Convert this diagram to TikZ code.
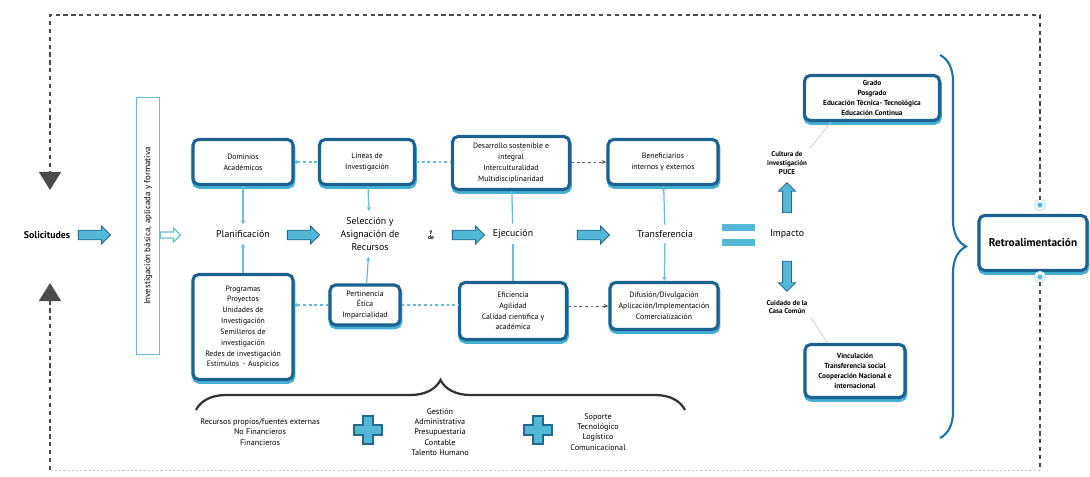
\documentclass[tikz,border=0pt]{standalone}
\usepackage{fontspec}
\setmainfont{PT Sans}
\usetikzlibrary{positioning, arrows.meta, shapes.arrows, shadows, decorations.pathreplacing, calc}
\definecolor{boxdark}{RGB}{28,98,145}
\definecolor{boxcyan}{RGB}{70,175,212}
\definecolor{linecyan}{RGB}{105,190,215}
\definecolor{arrowfill}{RGB}{82,184,214}
\definecolor{arrowdark}{RGB}{35,105,145}
\definecolor{braceblue}{RGB}{30,115,165}
\definecolor{loopgray}{RGB}{75,75,75}
\definecolor{dotcyan}{RGB}{80,185,220}

\begin{document}
\begin{tikzpicture}[
    x=0.025cm, y=-0.025cm,
    box/.style={rectangle, draw=boxdark, line width=2.2pt, rounded corners=4pt, fill=white, align=center, inner sep=1pt,
      preaction={draw=boxcyan, line width=2.6pt, transform canvas={yshift=-1.8pt, xshift=0.4pt}},
      font=\fontsize{5.5}{7.7}\selectfont},
    boldbox/.style={box, font=\fontsize{5.2}{7}\selectfont\bfseries},
    stage/.style={align=center, inner sep=4pt, font=\fontsize{7}{9.5}\selectfont},
    note/.style={align=center, font=\fontsize{5.8}{7.3}\selectfont},
    smallbold/.style={align=center, inner sep=2pt, font=\fontsize{5}{6.3}\selectfont\bfseries},
    blockarrow/.style={single arrow, draw=arrowdark, fill=arrowfill, line width=0.6pt, minimum height=0.8cm,
      inner sep=0.11cm, single arrow head extend=0.1cm, single arrow head indent=0pt},
    link/.style={draw=linecyan, line width=0.9pt},
    tip/.style={-{Stealth[length=3pt,width=3pt]}},
    dashlink/.style={draw=linecyan, line width=0.8pt, dash pattern=on 2pt off 2pt},
    grayarrow/.style={draw=gray!70!black, line width=0.6pt, dash pattern=on 2pt off 2pt, -{Stealth[length=3.5pt,width=3pt]}},
    leader/.style={draw=gray!45, line width=0.4pt},
    loop/.style={draw=loopgray, line width=0.9pt, dash pattern=on 3pt off 2.6pt},
    dot/.style={circle, fill=dotcyan, draw=linecyan!45, double=white, double distance=1pt, line width=0.8pt,
      minimum size=6pt, inner sep=0pt},
    plus/.style={fill=arrowfill, draw=arrowdark, line width=0.8pt}
  ]
  \fill[white] (0,0) rectangle (1090,477);
  \useasboundingbox (0,0) rectangle (1090,477);

  % Entry
  \node[font=\fontsize{7}{8}\selectfont\bfseries] (sol) at (47,235) {Solicitudes};
  \node[blockarrow] (ba1) at (92,235) {};
  \node[rectangle, draw=linecyan, line width=1.1pt, rotate=90, minimum width=6.425cm, minimum height=0.575cm,
    inner sep=0pt, font=\fontsize{6.3}{7}\selectfont] (inv) at (148,226) {Investigación básica, aplicada y formativa};
  \node[single arrow, draw=linecyan, fill=white, line width=0.8pt, minimum height=0.5cm, inner sep=0.06cm,
    single arrow head extend=0.1cm] (oa) at (169,235) {};

  % Stages
  \node[stage] (plan) at (243,234) {Planificación};
  \node[stage] (sel) at (370,234) {Selección y\\Asignación de\\Recursos};
  \node[align=center, inner sep=0pt, font=\fontsize{4}{4.5}\selectfont\bfseries] (yde) at (431,235) {y\\de};
  \node[stage] (eje) at (513,234) {Ejecución};
  \node[stage] (tra) at (665,234) {Transferencia};
  \node[stage] (imp) at (787,234) {Impacto};
  \foreach \ax in {301,466,591}
    \node[blockarrow] (ba\ax) at (\ax,235) {};
  \fill[arrowfill] (722,224) rectangle (755,231);
  \fill[arrowfill] (722,239) rectangle (755,246);

  % Upper boxes
  \node[box, minimum width=2.5cm, minimum height=1.125cm] (dom) at (243,162) {Dominios\\Académicos};
  \node[box, minimum width=2.375cm, minimum height=1.125cm] (lin) at (367,162) {Líneas de\\Investigación};
  \node[box, minimum width=2.925cm, minimum height=1.325cm] (des) at (511,163) {Desarrollo sostenible e\\integral\\Interculturalidad\\Multidisciplinaridad};
  \node[box, minimum width=2.75cm, minimum height=1.125cm] (ben) at (663,162) {Beneficiarios\\internos y externos};

  % Lower boxes
  \node[box, minimum width=2.5cm, minimum height=2.625cm] (pro) at (243,327) {Programas\\Proyectos\\Unidades de\\Investigación\\Semilleros de\\investigación\\Redes de investigación\\Estímulos~~-~Auspicios};
  \node[box, minimum width=1.75cm, minimum height=1cm] (per) at (365,305) {Pertinencia\\Ética\\Imparcialidad};
  \node[box, minimum width=2.675cm, minimum height=1.425cm] (efi) at (513,311) {Eficiencia\\Agilidad\\Calidad científica y\\académica};
  \node[box, minimum width=2.7cm, minimum height=1.175cm] (dif) at (664,306) {Difusión/Divulgación\\Aplicación/Implementación\\Comercialización};

  % Vertical links
  \draw[link, tip] (dom) -- (plan);
  \draw[link, tip] (pro) -- (plan);
  \draw[link, tip] (lin) -- (sel);
  \draw[link, tip] (per) -- (sel);
  \draw[link] (des) -- (eje);
  \draw[link] (efi) -- (eje);
  \draw[link, tip] (tra) -- (ben);
  \draw[link, tip] (tra) -- (dif);

  % Dashed links
  \draw[dashlink, {Circle[length=2.5pt]}-] (dom.east) -- (lin.west);
  \draw[dashlink] (lin.east) -- (lin.east -| des.west);
  \draw[grayarrow] (ben.west -| des.east) -- (ben.west);
  \draw[dashlink, {Circle[length=2.5pt]}-] (per.west -| pro.east) -- (per.west);
  \draw[dashlink] (per.east) -- (per.east -| efi.west);
  \draw[grayarrow] (dif.west -| efi.east) -- (dif.west);

  % Impact
  \node[blockarrow, shape border rotate=90, minimum height=0.75cm, inner sep=0.1cm] (upa) at (787,200) {};
  \node[blockarrow, shape border rotate=270, minimum height=0.75cm, inner sep=0.1cm] (dna) at (787,274) {};
  \node[smallbold] (cul) at (787,163) {Cultura de\\investigación\\PUCE};
  \node[smallbold] (cui) at (787,307) {Cuidado de la\\Casa Común};
  \node[boldbox, minimum width=3.375cm, minimum height=1.125cm] (gra) at (872,98) {Grado\\Posgrado\\Educación Técnica- Tecnológica\\Educación Continua};
  \node[boldbox, minimum width=2.5cm, minimum height=1.325cm] (vin) at (855,371) {Vinculación\\Transferencia social\\Cooperación Nacional e\\internacional};
  \draw[leader] (cul.north east) -- ([xshift=0.7cm]gra.south west);
  \draw[leader] (cui.south east) -- ([xshift=0.6cm]vin.north west);

  % Braces
  \draw[braceblue, line width=1.5pt, decorate, decoration={brace, amplitude=0.65cm}] (940,55) -- (940,438);
  \draw[black!80, line width=1.6pt, decorate, decoration={brace, amplitude=0.75cm}] (196,410) -- (685,410);

  % Feedback
  \node[box, minimum width=2.7cm, minimum height=1.375cm, font=\fontsize{8}{10}\selectfont\bfseries] (ret) at (1033,243) {Retroalimentación};
  \node[dot] (c1) at (1040,205) {};
  \node[dot] (c2) at (1040,277) {};

  % Resources
  \node[note] (rec) at (260,432) {Recursos propios/fuentes externas\\No Financieros\\Financieros};
  \node[note] (ges) at (440,432) {Gestión\\Administrativa\\Presupuestaria\\Contable\\Talento Humano};
  \node[note] (sop) at (598,432) {Soporte\\Tecnológico\\Logístico\\Comunicacional};
  \foreach \px in {368,538}
    \draw[plus, shift={(\px,430)}] (-5,-14) -- (5,-14) -- (5,-5) -- (14,-5) -- (14,5) -- (5,5) -- (5,14)
      -- (-5,14) -- (-5,5) -- (-14,5) -- (-14,-5) -- (-5,-5) -- cycle;

  % Loop
  \coordinate (tl) at (50,15);
  \coordinate (tr) at (1040,15);
  \coordinate (bl) at (50,470);
  \coordinate (br) at (1040,470);
  \coordinate (dntip) at (50,190);
  \coordinate (uptip) at (50,283);
  \draw[loop, -{Triangle[width=0.55cm, length=0.45cm]}] (c1) -- (tr) -- (tl) -- (dntip);
  \draw[loop] (c2) -- (br);
  \draw[draw=gray!45, line width=0.7pt, dash pattern=on 1.5pt off 1.5pt] (br) -- (bl);
  \draw[loop, -{Triangle[width=0.55cm, length=0.45cm]}] (bl) -- (uptip);
\end{tikzpicture}
\end{document}
